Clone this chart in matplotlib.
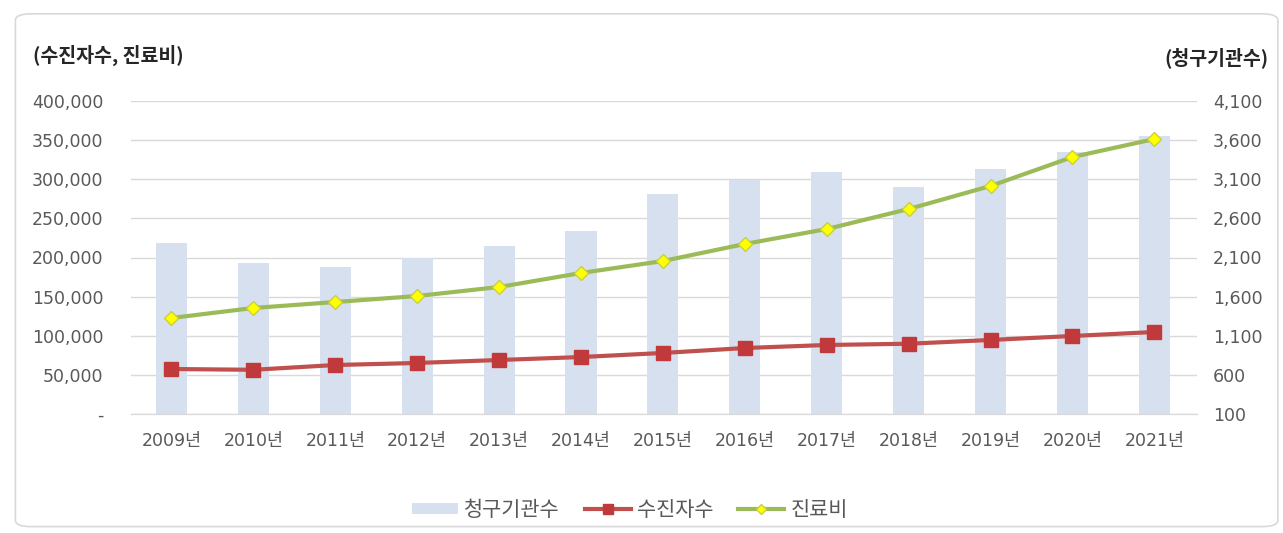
import matplotlib.pyplot as plt
import numpy as np
from matplotlib.patches import FancyBboxPatch
from matplotlib.ticker import FuncFormatter

plt.rcParams['font.family'] = ['Noto Sans CJK KR', 'DejaVu Sans']

years = ['2009년', '2010년', '2011년', '2012년', '2013년', '2014년', '2015년',
         '2016년', '2017년', '2018년', '2019년', '2020년', '2021년']
# 청구기관수 (right axis)
claims = [2285, 2030, 1980, 2095, 2245, 2440, 2910, 3090, 3195, 3000, 3230, 3450, 3655]
# 수진자수 (left axis)
patients = [57500, 56500, 62600, 65200, 69000, 72800, 78000, 84300, 88200, 89800, 94600, 99700, 104800]
# 진료비 (left axis)
cost = [122700, 135500, 143100, 150800, 162300, 180200, 195500, 217300, 236400, 262000, 291400, 328400, 351400]

grey = '#595959'
numfont = ['DejaVu Sans', 'Noto Sans CJK KR']
x = np.arange(len(years))

fig = plt.figure(figsize=(12.83, 5.33), dpi=100)
fig.patches.append(FancyBboxPatch((0.012, 0.012), 0.984, 0.962, boxstyle='round,pad=0,rounding_size=0.012',
                                  transform=fig.transFigure, fc='none', ec='#d9d9d9', lw=1.2, zorder=-1))

ax = fig.add_axes([131/1283, 1-414/533, 1066/1283, 313/533])
ax2 = ax.twinx()
ax.set_zorder(ax2.get_zorder() + 1)
ax.patch.set_visible(False)

b = ax2.bar(x, claims, width=0.38, color='#d7e0ee', label='청구기관수', zorder=2)
ax2.set_ylim(100, 4100)
ax2.set_yticks(np.arange(100, 4101, 500))
ax2.yaxis.set_major_formatter(FuncFormatter(lambda v, p: f'{int(v):,}'))
# gridlines on the bar axes so they sit behind the bars
ax2.grid(axis='y', color='#d9d9d9', lw=1)
ax2.set_axisbelow(True)

l1, = ax.plot(x, patients, color='#c0504d', lw=3, marker='s', ms=9.5,
              mfc='#c0393b', mec='#c0393b', label='수진자수', zorder=3)
l2, = ax.plot(x, cost, color='#9bbb59', lw=3, marker='D', ms=7,
              mfc='#ffff00', mec='#c8d040', label='진료비', zorder=3)
ax.set_ylim(0, 400000)
ax.set_yticks(np.arange(0, 400001, 50000))
ax.yaxis.set_major_formatter(FuncFormatter(lambda v, p: '-' if v == 0 else f'{int(v):,}'))
ax.set_xlim(-0.494, 12.52)
ax.set_xticks(x)
ax.set_xticklabels(years)

for a in (ax, ax2):
    for s in ('top', 'left', 'right'):
        a.spines[s].set_visible(False)
    a.spines['bottom'].set_color('#d9d9d9')
    a.tick_params(length=0, colors=grey, labelsize=12.5)
    for t in a.get_xticklabels() + a.get_yticklabels():
        t.set_family(numfont)
ax.tick_params(axis='y', pad=20)
ax.tick_params(axis='x', pad=13)
ax2.tick_params(axis='y', pad=11.5)

fig.text(33/1283, 1-55/533, '(수진자수, 진료비)', fontsize=14, fontweight='bold', color='#262626', va='center')
fig.text(1268/1283, 1-58/533, '(청구기관수)', fontsize=14, fontweight='bold', color='#262626', va='center', ha='right')

fig.legend(handles=[b, l1, l2], loc='center', bbox_to_anchor=(630/1283, 1-510/533), ncol=3,
           frameon=False, fontsize=15, labelcolor=grey, handlelength=2.2, columnspacing=1.2,
           handletextpad=0.3, handleheight=0.45, markerscale=0.75)

fig.savefig('out.png', dpi=100)
